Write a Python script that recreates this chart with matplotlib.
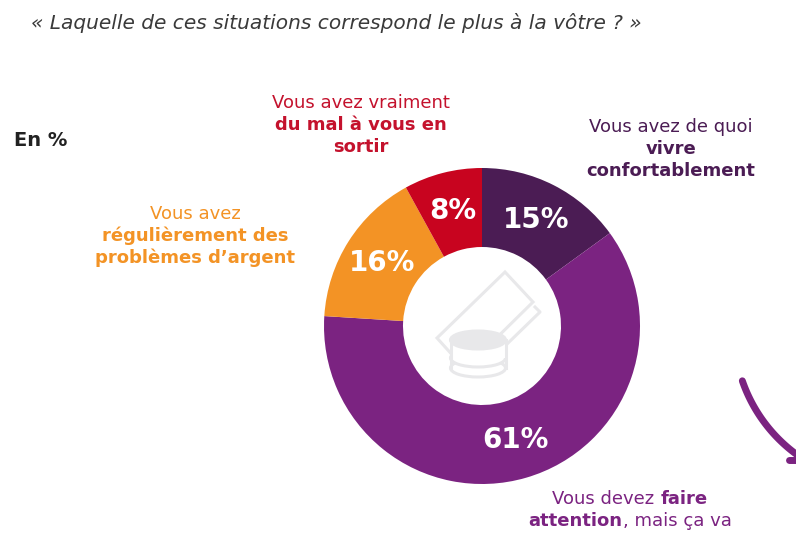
import numpy as np
import matplotlib.pyplot as plt
from matplotlib.offsetbox import TextArea, HPacker, AnnotationBbox
from matplotlib.patches import Polygon, Ellipse

# data
shares = [15, 61, 16, 8]
pct_labels = ['15%', '61%', '16%', '8%']
colors = ['#4b1c54', '#7b2381', '#f39325', '#c8041f']
title = '« Laquelle de ces situations correspond le plus à la vôtre ? »'
unit_label = 'En %'

W, H = 796, 555
fig = plt.figure(figsize=(W / 100, H / 100), dpi=100)

# donut, centre (482, 326) px, radius 158 px
cx, cy, r = 482, 326, 158
pie_ax = fig.add_axes([(cx - r) / W, (H - cy - r) / H, 2 * r / W, 2 * r / H])
wedges, texts = pie_ax.pie(shares, colors=colors, startangle=90, counterclock=False,
                           radius=1, wedgeprops=dict(width=0.5, linewidth=0))
for w, lab in zip(wedges, pct_labels):
    ang = np.deg2rad((w.theta1 + w.theta2) / 2)
    pie_ax.text(0.75 * np.cos(ang), 0.75 * np.sin(ang), lab, ha='center', va='center',
                color='white', fontsize=20, fontweight='bold', family='DejaVu Sans')
pie_ax.set_xlim(-1, 1)
pie_ax.set_ylim(-1, 1)
pie_ax.axis('off')

# overlay in pixel coordinates
ov = fig.add_axes([0, 0, 1, 1], zorder=3)
ov.set_xlim(0, W)
ov.set_ylim(H, 0)
ov.axis('off')

ov.text(31, 29, title, ha='left', va='baseline', fontsize=14.5, style='italic',
        family='DejaVu Sans', color='#3a3a3a')
ov.text(14, 146, unit_label, ha='left', va='baseline', fontsize=14,
        fontweight='bold', family='DejaVu Sans', color='#222222')

FS = 13


def label(x, y0, lines, color):
    for i, (txt, bold) in enumerate(lines):
        ov.text(x, y0 + 22 * i, txt, ha='center', va='baseline', fontsize=FS,
                fontweight='bold' if bold else 'normal', color=color, family='DejaVu Sans')


def mixed_line(x, y, parts, color):
    kids = [TextArea(t, textprops=dict(fontsize=FS, color=color, family='DejaVu Sans',
                                       fontweight='bold' if b else 'normal'))
            for t, b in parts]
    box = HPacker(children=kids, sep=0, pad=0, align='baseline')
    ab = AnnotationBbox(box, (x, y), xycoords='data', frameon=False,
                        box_alignment=(0.5, 0.3), pad=0)
    ov.add_artist(ab)


label(361, 108, [('Vous avez vraiment', False), ('du mal à vous en', True), ('sortir', True)],
      '#c4122d')
label(671, 132, [('Vous avez de quoi', False), ('vivre', True), ('confortablement', True)],
      '#4b1c54')
label(195, 219, [('Vous avez', False), ('régulièrement des', True), ('problèmes d\u2019argent', True)],
      '#f39325')
mixed_line(630, 503, [('Vous devez\u00a0', False), ('faire', True)], '#7b2381')
mixed_line(630, 525, [('attention', True), (', mais ça va', False)], '#7b2381')

# money icon in the donut hole
grey = '#e8e8ea'
note = np.array([[505, 272], [533, 302], [465, 369], [437, 338]])
ov.add_patch(Polygon(note, closed=True, fill=False, ec=grey, lw=2.2, zorder=2))
ov.plot([535, 540, 506], [307, 312, 345], color=grey, lw=2.2, zorder=2)
for yy in [368, 358]:
    ov.add_patch(Ellipse((478, yy), 55, 18, fc='white', ec=grey, lw=2.2, zorder=3))
ov.add_patch(Polygon([[450.5, 340], [505.5, 340], [505.5, 358], [450.5, 358]],
                     fc='white', ec='none', zorder=3))
ov.plot([450.5, 450.5], [340, 368], color=grey, lw=2.2, zorder=4)
ov.plot([505.5, 505.5], [340, 368], color=grey, lw=2.2, zorder=4)
ov.add_patch(Ellipse((478, 340), 55, 18, fc=grey, ec=grey, lw=2.2, zorder=4))

# purple curve at the right edge
t = np.deg2rad(np.linspace(161, 126, 60))
ov.plot(887 + 153 * np.cos(t), 331 + 153 * np.sin(t), color='#7b2381', lw=5,
        solid_capstyle='round')
ov.plot([789, 800], [460, 460], color='#7b2381', lw=5, solid_capstyle='round')

fig.savefig('out.png', dpi=100)
